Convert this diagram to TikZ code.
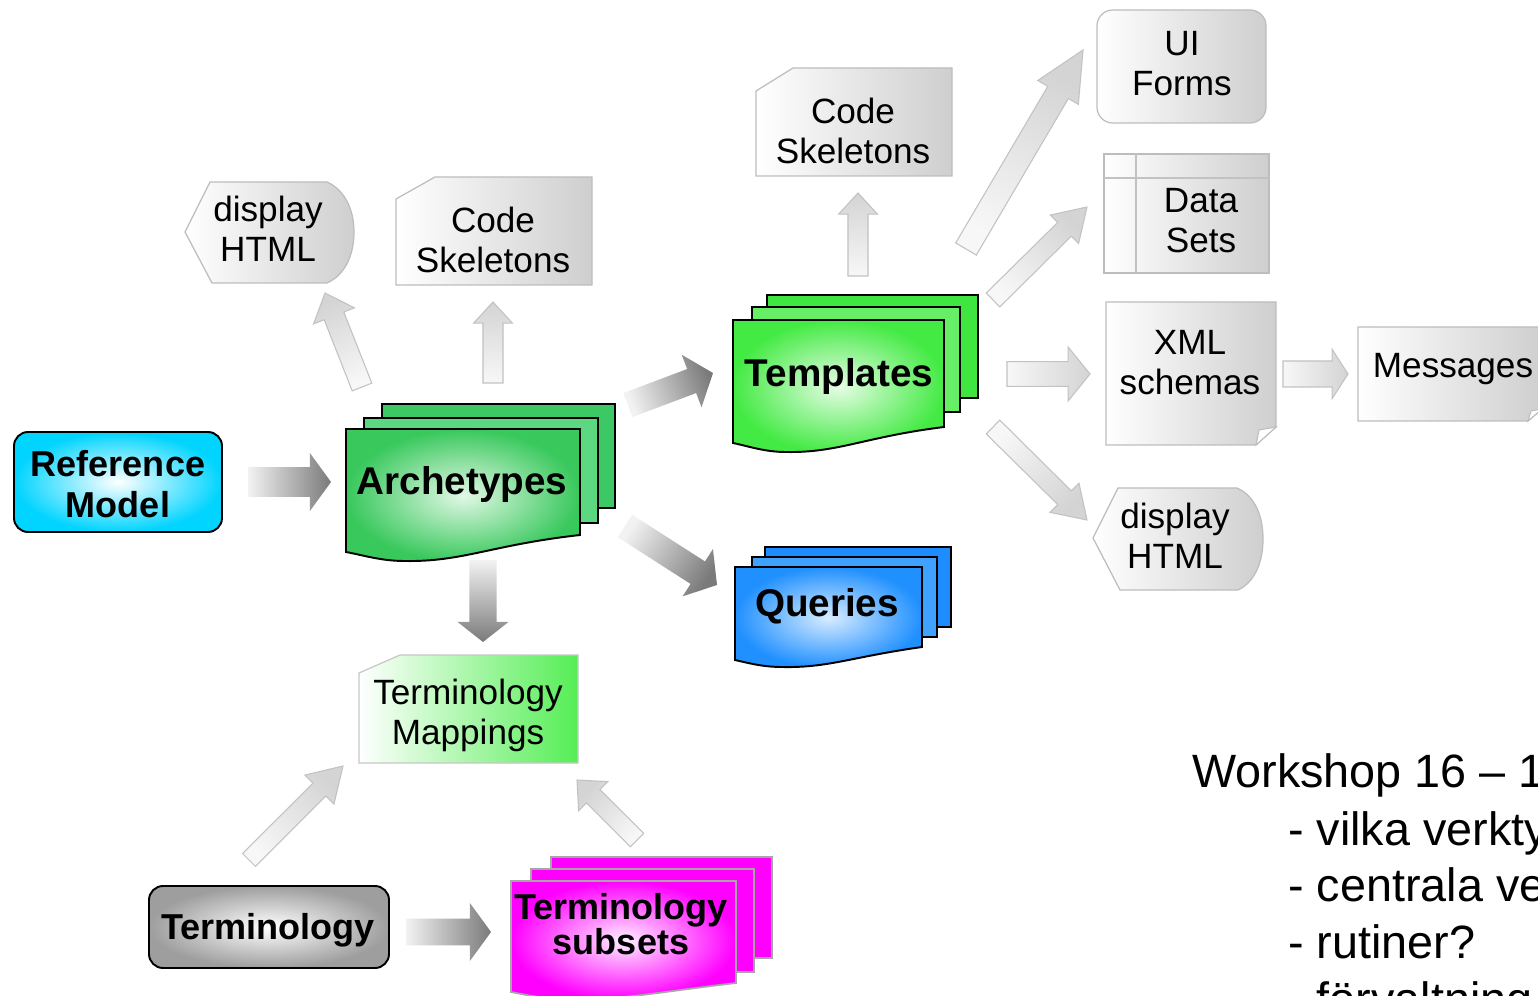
\documentclass[tikz,border=0pt]{standalone}
\usepackage{fontspec}
\setmainfont{Liberation Sans}
\usetikzlibrary{calc}
\definecolor{rmcyan}{HTML}{00D4FF}
\definecolor{archA}{HTML}{3CC864}
\definecolor{archB}{HTML}{5CD880}
\definecolor{archC}{HTML}{38C85C}
\definecolor{archIn}{HTML}{E2F8E6}
\definecolor{tplA}{HTML}{40E640}
\definecolor{tplB}{HTML}{66EE66}
\definecolor{tplC}{HTML}{44EA44}
\definecolor{tplIn}{HTML}{E6FDE6}
\definecolor{qA}{HTML}{1C8CFF}
\definecolor{qB}{HTML}{3FA2FF}
\definecolor{qC}{HTML}{2090FF}
\definecolor{qIn}{HTML}{D8ECFF}
\definecolor{magA}{HTML}{FF00FF}
\definecolor{magIn}{HTML}{FFF0FF}
\definecolor{tmgreen}{HTML}{55EE55}
% block arrow between two named coordinates
\newcommand\blkarrow[6]{%
  \pgfmathanglebetweenpoints{\pgfpointanchor{#2}{center}}{\pgfpointanchor{#3}{center}}%
  \pgfmathsetmacro\bashang{\pgfmathresult+90}%
  \coordinate (ba-n) at ($(#3)!#6!(#2)$);%
  \path[#1,shading angle=\bashang]
    ($(#2)!#4!-90:(#3)$) -- ($(ba-n)!#4!-90:(#3)$) -- ($(ba-n)!#5!-90:(#3)$) -- (#3)
    -- ($(ba-n)!#5!90:(#3)$) -- ($(ba-n)!#4!90:(#3)$) -- ($(#2)!#4!90:(#3)$) -- cycle;}
% front page of a document stack
\newcommand\docfront[6]{(#1,#2) -- ({#1+#3},#2) -- ({#1+#3},{#2+#4})
  .. controls ({#1+0.62*#3},{#2+#4+10}) and ({#1+0.5*#3},{#2+#6+1}) .. ({#1+0.25*#3},{#2+#6})
  .. controls ({#1+0.15*#3},{#2+#6}) and ({#1+0.07*#3},{#2+#5+3}) .. (#1,{#2+#5}) -- cycle}
\begin{document}
\begin{tikzpicture}[x=0.02cm,y=-0.02cm,
  lbl/.style={font=\fontsize{20}{22.8}\selectfont, align=center, inner sep=0pt},
  blbl/.style={font=\bfseries\fontsize{22}{25}\selectfont, align=center, inner sep=0pt},
  blbls/.style={font=\bfseries\fontsize{20.5}{23}\selectfont, align=center, inner sep=0pt},
  lightshape/.style={draw=black!26, line width=0.7pt, left color=white, right color=black!19},
  darkarrow/.style={left color=black!5, right color=black!52},
  lightarrow/.style={draw=black!24, line width=0.6pt, left color=black!3, right color=black!17},
  stackedge/.style={draw=black, line width=1.1pt},
  magedge/.style={draw=black!35, line width=1pt},
  wslbl/.style={font=\fontsize{26.6}{32}\selectfont, anchor=base west, inner sep=0pt}]
\useasboundingbox (0,0) rectangle (1538,996);
\clip (0,0) rectangle (1538,996);
\fill[white] (0,0) rectangle (1538,996);

% ---------- main shapes ----------
% Reference model
\path[stackedge, rounded corners=8pt, inner color=white, outer color=rmcyan] (14,432) rectangle (222,532);
% Archetypes stack
\path[stackedge, fill=archA] (382,404) rectangle (615,508);
\path[stackedge, fill=archB] (364,418) rectangle (598,523);
\path[stackedge, inner color=archIn, outer color=archC] \docfront{346}{429}{234}{106}{123}{132};
% Templates stack
\path[stackedge, fill=tplA] (767,295) rectangle (978,398);
\path[stackedge, fill=tplB] (752,307) rectangle (960,412);
\path[stackedge, inner color=tplIn, outer color=tplC] \docfront{733}{320}{211}{107}{123}{132};
% Queries stack
\path[stackedge, fill=qA] (765,547) rectangle (951,627);
\path[stackedge, fill=qB] (752,557) rectangle (937,637);
\path[stackedge, inner color=qIn, outer color=qC] \docfront{735}{567}{187}{80}{93}{100};
% Terminology subsets stack
\path[magedge, fill=magA] (551,857) rectangle (772,958);
\path[magedge, fill=magA] (531,869) rectangle (754,972);
\path[magedge, inner color=magIn, outer color=magA] \docfront{511}{881}{225}{102}{111}{118};
% Terminology
\path[stackedge, rounded corners=8pt, inner color=white, outer color=black!38] (149,886) rectangle (389,968);
% Terminology mappings
\path[draw=black!22, line width=0.7pt, left color=white, right color=tmgreen]
  (359,673) -- (400,655) -- (578,655) -- (578,763) -- (359,763) -- cycle;

% ---------- light output shapes ----------
\path[lightshape] (185,232) -- (210,182) -- (327,182) .. controls (345,190) and (354,210) .. (354,232)
  .. controls (354,255) and (345,275) .. (327,283) -- (212,283) -- cycle;
\path[lightshape] (396,199) -- (435,177) -- (592,177) -- (592,285) -- (396,285) -- cycle;
\path[lightshape] (756,91) -- (793,68) -- (952,68) -- (952,176) -- (756,176) -- cycle;
\path[lightshape, rounded corners=9pt] (1097,10) rectangle (1266,123);
\path[lightshape] (1104,154) rectangle (1269,273);
\draw[black!24, line width=0.7pt] (1136,154) -- (1136,273) (1104,178) -- (1269,178);
\path[lightshape] (1106,302) -- (1276,302) -- (1276,427) -- (1256,445) -- (1106,445) -- cycle;
\path[draw=black!26, line width=0.6pt, fill=white] (1276,427) -- (1259,430) -- (1256,445) -- cycle;
\path[lightshape] (1358,327) -- (1542,327) -- (1542,409) -- (1528,421) -- (1358,421) -- cycle;
\path[draw=black!26, line width=0.6pt, fill=white] (1542,409) -- (1531,411) -- (1528,421) -- cycle;
\path[lightshape] (1093,538) -- (1118,488) -- (1237,488) .. controls (1255,496) and (1263,516) .. (1263,539)
  .. controls (1263,562) and (1255,582) .. (1238,590) -- (1120,590) -- cycle;

% ---------- labels ----------
\node[blbls, font=\bfseries\fontsize{20.5}{23.5}\selectfont] (rm) at (118,484) {Reference\\Model};
\node[blbl] (arch) at (462,485) {Archetypes};
\node[blbl] (tpl) at (839,377) {Templates};
\node[blbl] (qry) at (827,606) {Queries};
\node[blbls] (term) at (268,930) {Terminology};
\node[blbls, font=\bfseries\fontsize{20.5}{19}\selectfont] (tsub) at (621,924) {Terminology\\subsets};
\node[lbl] (tm) at (468,715) {Terminology\\Mappings};
\node[lbl] (dh1) at (268,229) {display\\HTML};
\node[lbl] (cs1) at (493,240) {Code\\Skeletons};
\node[lbl] (cs2) at (853,131) {Code\\Skeletons};
\node[lbl] (uif) at (1182,64) {UI\\Forms};
\node[lbl] (ds) at (1201,221) {Data\\Sets};
\node[lbl] (xml) at (1190,363) {XML\\schemas};
\node[lbl] (msg) at (1453,369) {Messages};
\node[lbl] (dh2) at (1175,536) {display\\HTML};

\node[wslbl] (ws1) at (1192,787) {Workshop 16 – 1};
\node[wslbl] (ws2) at (1288,845) {- vilka verkty};
\node[wslbl] (ws3) at (1288,901) {- centrala ve};
\node[wslbl] (ws4) at (1288,958) {- rutiner?};
\node[wslbl] (ws5) at (1288,1015) {- förvaltning};

% ---------- block arrows ----------
\coordinate (a1s) at (248,482);  \coordinate (a1e) at (331,482);
\coordinate (a2s) at (362,387);  \coordinate (a2e) at (325,293);
\coordinate (a3s) at (493,383);  \coordinate (a3e) at (493,302);
\coordinate (a4s) at (628,405);  \coordinate (a4e) at (713,373);
\coordinate (a5s) at (625,526);  \coordinate (a5e) at (717,585);
\coordinate (a6s) at (483,560);  \coordinate (a6e) at (483,642);
\coordinate (a7s) at (858,276);  \coordinate (a7e) at (858,193);
\coordinate (a8s) at (966,249);  \coordinate (a8e) at (1083,50);
\coordinate (a9s) at (993,300);  \coordinate (a9e) at (1087,207);
\coordinate (a10s) at (1007,374); \coordinate (a10e) at (1090,374);
\coordinate (a11s) at (993,427); \coordinate (a11e) at (1087,520);
\coordinate (a12s) at (1283,374); \coordinate (a12e) at (1348,374);
\coordinate (a13s) at (249,860); \coordinate (a13e) at (343,766);
\coordinate (a14s) at (637,840); \coordinate (a14e) at (577,780);
\coordinate (a15s) at (406,932); \coordinate (a15e) at (491,932);

\blkarrow{darkarrow}{a1s}{a1e}{8.5pt}{16.5pt}{12pt}
\blkarrow{lightarrow}{a2s}{a2e}{6pt}{12.5pt}{14pt}
\blkarrow{lightarrow}{a3s}{a3e}{5.7pt}{11pt}{12pt}
\blkarrow{darkarrow}{a4s}{a4e}{7.3pt}{16pt}{13pt}
\blkarrow{darkarrow}{a5s}{a5e}{7.6pt}{16pt}{13pt}
\blkarrow{darkarrow}{a6s}{a6e}{7.7pt}{14.5pt}{11.4pt}
\blkarrow{lightarrow}{a7s}{a7e}{5.7pt}{11pt}{12pt}
\blkarrow{lightarrow}{a8s}{a8e}{6.8pt}{13.4pt}{28pt}
\blkarrow{lightarrow}{a9s}{a9e}{5.5pt}{11.4pt}{18pt}
\blkarrow{lightarrow}{a10s}{a10e}{7pt}{15.4pt}{12.5pt}
\blkarrow{lightarrow}{a11s}{a11e}{5.5pt}{11.7pt}{18pt}
\blkarrow{lightarrow}{a12s}{a12e}{7.4pt}{14pt}{9pt}
\blkarrow{lightarrow}{a13s}{a13e}{5.2pt}{11.7pt}{19pt}
\blkarrow{lightarrow}{a14s}{a14e}{5.4pt}{11.7pt}{13pt}
\blkarrow{darkarrow}{a15s}{a15e}{7.6pt}{16.5pt}{12pt}
\end{tikzpicture}
\end{document}
